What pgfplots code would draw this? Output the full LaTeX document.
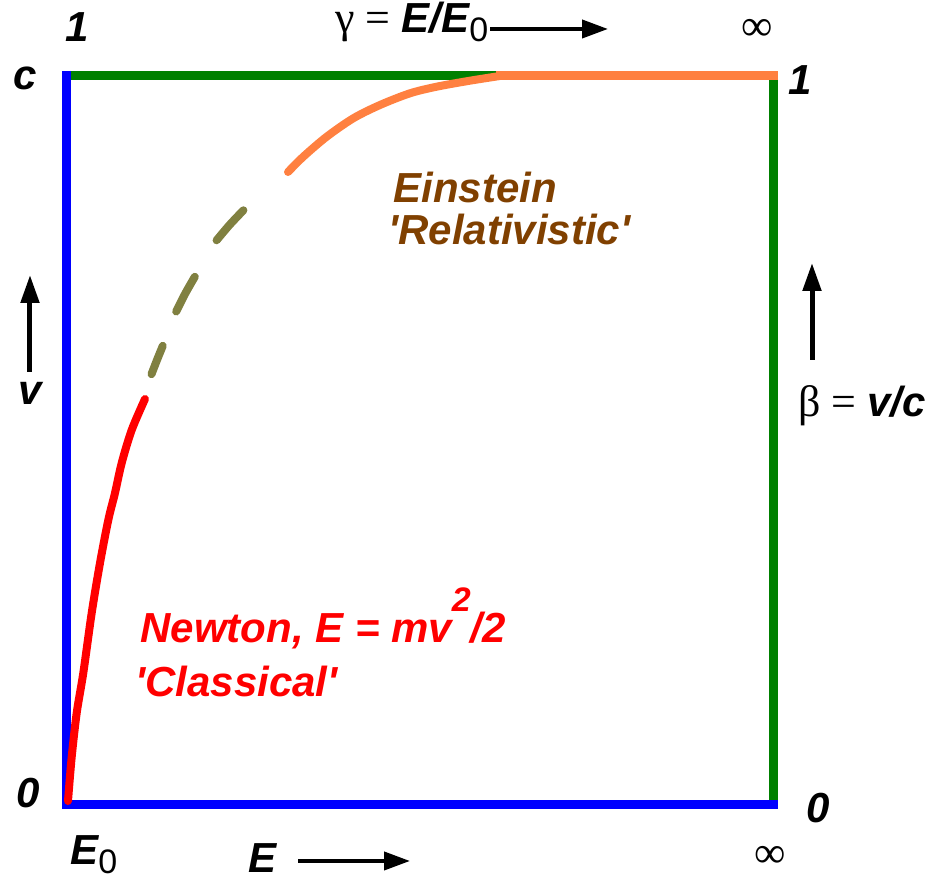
\documentclass[border=0pt]{standalone}
\usepackage{fontspec}
\setmainfont{Liberation Sans}
\newfontfamily\symf{Liberation Serif}
\usepackage{pgfplots}
\pgfplotsset{compat=1.18}
\usetikzlibrary{arrows.meta}
\definecolor{cblue}{HTML}{0000FF}
\definecolor{cgreen}{HTML}{008000}
\definecolor{cred}{HTML}{FF0000}
\definecolor{colive}{HTML}{808040}
\definecolor{corange}{HTML}{FF8040}
\definecolor{cbrown}{HTML}{804000}
\newcommand\lab{\normalfont\fontsize{21}{25}\selectfont\bfseries\itshape}
\newcommand\sym{\normalfont\fontsize{22}{25}\selectfont\symf\mdseries\upshape}
\newcommand\sub{\raisebox{-0.2em}{\normalfont\fontsize{17}{17}\selectfont 0}}
\newcommand\q{\textquotesingle}
\begin{document}
\begin{tikzpicture}
\begin{axis}[scale only axis, width=353pt, height=365pt,
  xmin=0, xmax=706, ymin=0, ymax=730, hide axis, clip=false]
\path (axis cs:-67,-77) rectangle (axis cs:866,805);
% frame
\addplot[draw=cgreen, line width=4.5pt, line cap=rect] coordinates {(0,729) (706,729)};
\addplot[draw=cgreen, line width=4.5pt, line cap=rect] coordinates {(706,729) (706,0)};
\addplot[draw=cblue, line width=4.5pt, line cap=rect] coordinates {(0,0) (706,0)};
\addplot[draw=cblue, line width=4.5pt, line cap=rect] coordinates {(0,0) (0,729)};
% Newton (classical)
\addplot[draw=cred, line width=4pt, line cap=round, smooth] coordinates {
 (1,4) (4.7,48) (9.7,92) (16.3,132) (24.7,192) (33,242) (41.3,285) (48,312) (54.7,342) (64.7,375) (78,406)};
% transition dashes
\addplot[draw=colive, line width=4pt, line cap=round, smooth] coordinates {(84.5,430.8) (90,445) (95.8,459.2)};
\addplot[draw=colive, line width=4pt, line cap=round, smooth] coordinates {(109.2,493.5) (118,511) (127.8,528.2)};
\addplot[draw=colive, line width=4pt, line cap=round, smooth] coordinates {(149.6,564.7) (162.5,580) (176.4,594.7)};
% Einstein (relativistic)
\addplot[draw=corange, line width=4pt, line cap=round, smooth] coordinates {
 (221,633) (236.3,648.3) (259.7,668.3) (286.3,686.7) (313,700) (343,711.7) (369.7,718.3) (403,724.3) (433,729)};
\addplot[draw=corange, line width=4.5pt, line cap=rect] coordinates {(433,729) (706,729)};
% labels
\node[anchor=base] at (axis cs:10,763) {\lab 1};
\node[anchor=base] at (axis cs:-42,715) {\lab c};
\node[anchor=base] at (axis cs:-39,-3) {\lab 0};
\node[anchor=base] at (axis cs:751,-18) {\lab 0};
\node[anchor=base] at (axis cs:733,710) {\lab 1};
\node[anchor=center] at (axis cs:690,775) {\sym ∞};
\node[anchor=center] at (axis cs:703,-52) {\sym ∞};
\node[anchor=base west, inner sep=0pt] at (axis cs:3,-60) {\lab E\sub};
\node[anchor=base west, inner sep=0pt] at (axis cs:181,-68) {\lab E};
\draw[line width=2pt, -{Triangle[length=13pt,width=9pt]}] (axis cs:231,-56) -- (axis cs:343,-56);
\node[anchor=base west, inner sep=0pt] at (axis cs:268,772) {\sym γ = \lab E/E\sub};
\draw[line width=2pt, -{Triangle[length=13pt,width=9pt]}] (axis cs:423,776) -- (axis cs:541,776);
\draw[line width=2.5pt, -{Triangle[length=14pt,width=9pt]}] (axis cs:-37,433) -- (axis cs:-37,530);
\node[anchor=base] at (axis cs:-37,400) {\lab v};
\draw[line width=2.5pt, -{Triangle[length=14pt,width=9pt]}] (axis cs:745,445) -- (axis cs:745,542);
\node[anchor=base] at (axis cs:795,388) {\sym β = \lab v/c};
\node[anchor=base west, inner sep=0pt, text=cbrown] at (axis cs:326,602) {\lab Einstein};
\node[anchor=base west, inner sep=0pt, text=cbrown] at (axis cs:321,560) {\lab \q Relativistic\q};
\node[anchor=base west, inner sep=0pt, text=cred] at (axis cs:73,162) {\lab Newton, E = mv\raisebox{0.75em}{\fontsize{17}{17}\selectfont 2}/2};
\node[anchor=base west, inner sep=0pt, text=cred] at (axis cs:68,108) {\lab \q Classical\q};
\end{axis}
\end{tikzpicture}
\end{document}
